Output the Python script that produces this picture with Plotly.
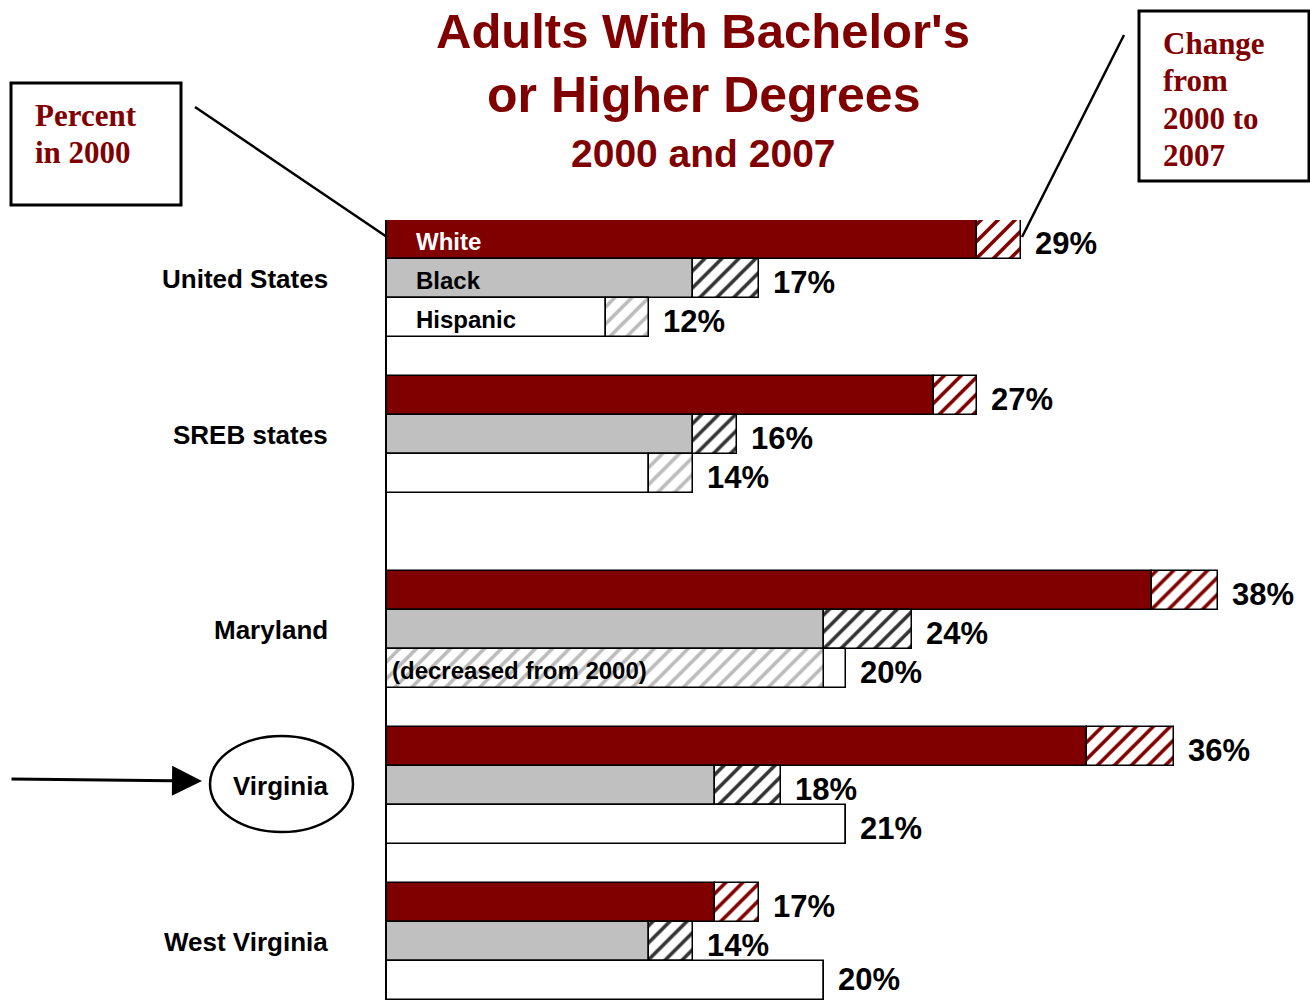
import plotly.graph_objects as go

# --- Données (pourcentage d'adultes avec licence ou plus) ---
regions = ["United States", "SREB states", "Maryland", "Virginia", "West Virginia"]
races = ["White", "Black", "Hispanic"]
white_2000 = [27, 25, 35, 32, 15]
white_2007 = [29, 27, 38, 36, 17]
black_2000 = [14, 14, 20, 15, 12]
black_2007 = [17, 16, 24, 18, 14]
hisp_2000 = [10, 12, 21, 21, 20]
hisp_2007 = [12, 14, 20, 21, 20]

# --- Styles ---
DARK_RED = "#800000"
GRAY = "#C0C0C0"
W, H = 1310, 1000
L, R, T, B = 387, 3, 220, 0
SANS = "Liberation Sans"
SERIF = "Liberation Serif"

styles = {
    "White": dict(color=DARK_RED, hatch=DARK_RED),
    "Black": dict(color=GRAY, hatch="#333333"),
    "Hispanic": dict(color="white", hatch="#BBBBBB"),
}
values = {
    "White": (white_2000, white_2007),
    "Black": (black_2000, black_2007),
    "Hispanic": (hisp_2000, hisp_2007),
}

# espaces entre groupes (en lignes)
gaps = [0, 1, 2, 1, 1]
starts = []
pos = 0
for g in gaps:
    pos += g
    starts.append(pos)
    pos += len(races)
n_rows = pos


def px(x):
    return (x - L) / (W - L - R)


def py(y):
    return (H - B - y) / (H - T - B)


fig = go.Figure()

for k, race in enumerate(races):
    v00, v07 = values[race]
    st = styles[race]
    rows = [s + k for s in starts]
    solid_base, solid_len, solid_col, hatch_base, hatch_len = [], [], [], [], []
    for a, b in zip(v00, v07):
        if b >= a:
            solid_base.append(0); solid_len.append(a); solid_col.append(st["color"])
            hatch_base.append(a); hatch_len.append(b - a)
        else:
            # baisse : hachuré jusqu'à 2007, blanc jusqu'à 2000
            hatch_base.append(0); hatch_len.append(b)
            solid_base.append(b); solid_len.append(a - b); solid_col.append("white")
    fig.add_trace(go.Bar(
        y=rows, x=solid_len, base=solid_base, orientation="h", width=1,
        marker=dict(color=solid_col, line=dict(color="black", width=1.5)),
        showlegend=False, hoverinfo="skip",
    ))
    fig.add_trace(go.Bar(
        y=rows, x=hatch_len, base=hatch_base, orientation="h", width=1,
        marker=dict(color="white", line=dict(color="black", width=1.5),
                    pattern=dict(shape="/", fgcolor=st["hatch"], bgcolor="white",
                                 size=12, solidity=0.3, fillmode="replace")),
        showlegend=False, hoverinfo="skip",
    ))
    for r, a, b in zip(rows, v00, v07):
        # dernière ligne : rester dans le cadre
        shift = 1 if r == n_rows - 1 else -4
        fig.add_annotation(x=max(a, b), y=r, text=f"{b}%", showarrow=False,
                           xanchor="left", yanchor="middle", xshift=12, yshift=shift,
                           font=dict(family=SANS, size=31, color="black", weight="bold"))

# libellés des races dans le premier groupe
for k, race in enumerate(races):
    fig.add_annotation(x=0, y=starts[0] + k, text=race, showarrow=False,
                       xanchor="left", xshift=27, yshift=-2,
                       font=dict(family=SANS, size=24, weight="bold",
                                 color="white" if race == "White" else "black"))

fig.add_annotation(x=0, y=starts[2] + 2, text="(decreased from 2000)", showarrow=False,
                   xanchor="left", xshift=3, yshift=-2,
                   font=dict(family=SANS, size=24, weight="bold", color="black"))

# libellés des régions
for s, name in zip(starts, regions):
    fig.add_annotation(x=0, y=s + 1, text=name, showarrow=False,
                       xanchor="right", xshift=-57,
                       font=dict(family=SANS, size=26, weight="bold", color="black"))

# titre
for txt, y, size in [("Adults With Bachelor's", 31, 49),
                     ("or Higher Degrees", 95, 50),
                     ("2000 and 2007", 153, 39)]:
    fig.add_annotation(xref="paper", yref="paper", x=px(703), y=py(y), text=txt,
                       showarrow=False, xanchor="center", yanchor="middle",
                       font=dict(family=SANS, size=size, weight="bold", color=DARK_RED))

# encadrés
fig.add_shape(type="rect", xref="paper", yref="paper",
              x0=px(11), x1=px(181), y0=py(83), y1=py(205), line=dict(color="black", width=3))
fig.add_shape(type="rect", xref="paper", yref="paper",
              x0=px(1139), x1=px(1309), y0=py(11), y1=py(181), line=dict(color="black", width=3))
fig.add_shape(type="line", xref="paper", yref="paper",
              x0=px(195), y0=py(107), x1=px(387), y1=py(237), line=dict(color="black", width=2.5))
fig.add_shape(type="line", xref="paper", yref="paper",
              x0=px(1124), y0=py(35), x1=px(1022), y1=py(237), line=dict(color="black", width=2.5))
for txt, x, y in [("Percent", 33, 115), ("in 2000", 33, 152),
                  ("Change", 1161, 44), ("from", 1161, 81),
                  ("2000 to", 1161, 118), ("2007", 1161, 155)]:
    fig.add_annotation(xref="paper", yref="paper", x=px(x), y=py(y), text=txt,
                       showarrow=False, xanchor="left", yanchor="middle",
                       font=dict(family=SERIF, size=31, weight="bold", color=DARK_RED))

# Virginia : ellipse + flèche
fig.add_shape(type="circle", xref="paper", yref="paper",
              x0=px(210), x1=px(353), y0=py(832), y1=py(736), line=dict(color="black", width=2.5))
fig.add_annotation(xref="paper", yref="paper", x=px(202), y=py(781),
                   ax=10 - 202, ay=779 - 781, axref="pixel", ayref="pixel",
                   text="", showarrow=True, arrowhead=2, arrowsize=2, arrowwidth=3,
                   arrowcolor="black")

fig.update_layout(
    width=W, height=H,
    margin=dict(l=L, r=R, t=T, b=B),
    paper_bgcolor="white", plot_bgcolor="white",
    barmode="overlay", bargap=0,
    xaxis=dict(range=[0, (W - L - R) / 21.87], visible=False, fixedrange=True),
    yaxis=dict(range=[n_rows - 0.5, -0.5], showticklabels=False, showgrid=False,
               zeroline=False, showline=True, linecolor="black", linewidth=2,
               ticks="", fixedrange=True),
    showlegend=False,
)

fig.write_html("out.html", config={"displayModeBar": False},
               post_script="document.body.style.margin='0';")
